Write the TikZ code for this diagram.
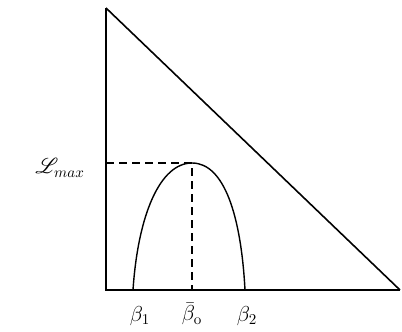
\documentclass[tikz,border=0pt]{standalone}
\usepackage{mathrsfs}
\begin{document}
\begin{tikzpicture}[x=1pt,y=-1pt,
  axis/.style={line width=1.6pt},
  guide/.style={line width=1.4pt,dash pattern=on 8pt off 5pt},
  lab/.style={font=\Large,scale=1.5,inner sep=0pt}]
\useasboundingbox (0,0) rectangle (402,332);
\coordinate (top) at (106,8);
\coordinate (origin) at (106,290);
\coordinate (right) at (400,290);
\coordinate (peak) at (192,163);
\coordinate (lmaxpt) at (106,163);
\coordinate (b0pt) at (192,290);
\coordinate (b1pt) at (133,290);
\coordinate (b2pt) at (245,290);
\draw[axis] (top) -- (origin) -- (right);
\draw[axis] (top) -- (right);
\draw[guide] (lmaxpt) -- (peak) -- (b0pt);
\draw[line width=1.4pt] (b1pt) .. controls (138,215) and (160,163) .. (peak)
  .. controls (224,163) and (241,215) .. (b2pt);
\node[lab] (lmax) at (60,168) {$\mathscr{L}_{max}$};
\node[lab] (b1) at (140,316) {$\beta_1$};
\node[lab] (b0) at (192,314) {$\bar{\beta}_{\mathrm{o}}$};
\node[lab] (b2) at (247,316) {$\beta_2$};
\end{tikzpicture}
\end{document}
